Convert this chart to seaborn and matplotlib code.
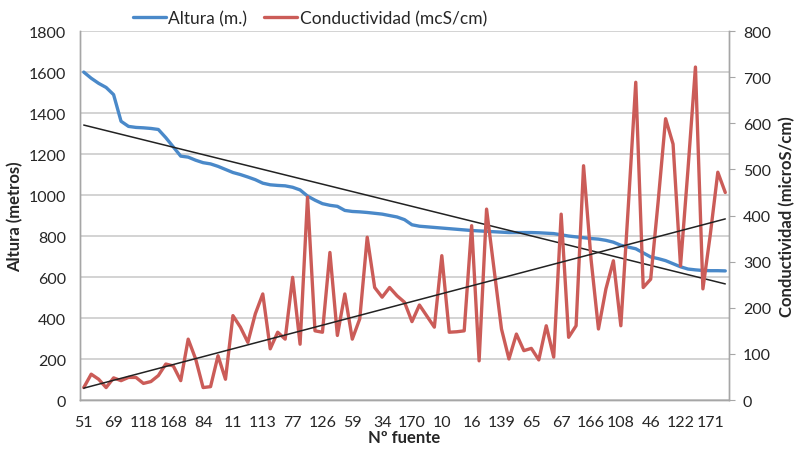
import numpy as np
import pandas as pd
import matplotlib.pyplot as plt
import seaborn as sns

sns.set_style("white")
plt.rcParams['font.family'] = ['Lato', 'DejaVu Sans']

# fuente labels shown on the axis (every 4th category)
tick_labels = ['51', '69', '118', '168', '84', '11', '113', '77', '126', '59', '34',
               '170', '10', '16', '139', '65', '67', '166', '108', '46', '122', '171']

altura = [1600, 1570, 1545, 1525, 1490, 1360, 1335, 1330, 1328, 1325,
          1320, 1280, 1235, 1190, 1185, 1170, 1158, 1152, 1140, 1125,
          1110, 1100, 1088, 1075, 1058, 1050, 1047, 1045, 1038, 1025,
          995, 975, 958, 950, 945, 925, 920, 918, 915, 911,
          907, 900, 893, 880, 855, 848, 845, 842, 839, 836,
          833, 830, 827, 825, 823, 821, 819, 817, 817, 817,
          817, 816, 814, 812, 806, 800, 796, 792, 788, 785,
          779, 770, 755, 746, 738, 718, 698, 690, 680, 665,
          650, 639, 635, 632, 631, 631, 630]

conductividad = [27, 56, 45, 27, 48, 42, 49, 49, 36, 40,
                 53, 78, 74, 42, 132, 89, 27, 29, 96, 45,
                 183, 158, 125, 187, 230, 111, 147, 132, 266, 121,
                 440, 150, 147, 320, 140, 230, 132, 176, 353, 244,
                 223, 244, 226, 212, 170, 206, 182, 158, 313, 147,
                 148, 150, 378, 85, 414, 284, 154, 89, 143, 107,
                 112, 87, 161, 93, 403, 136, 161, 508, 306, 154,
                 241, 302, 161, 420, 689, 244, 262, 430, 610, 555,
                 291, 500, 722, 241, 360, 494, 450]

df = pd.DataFrame({'idx': np.arange(len(altura)),
                   'altura': altura,
                   'conductividad': conductividad})

blue = '#4a89c9'
red = '#cb5c58'
grey = '#a6a6a6'
txt = '#262626'

fig = plt.figure(figsize=(8.05, 4.52), dpi=100)
ax = fig.add_axes([0.0994, 0.1128, 0.8062, 0.8162])
ax2 = ax.twinx()

# series
sns.lineplot(data=df, x='idx', y='altura', ax=ax, color=blue, linewidth=2.4,
             label='Altura (m.)', legend=False)
sns.lineplot(data=df, x='idx', y='conductividad', ax=ax2, color=red, linewidth=2.4,
             label='Conductividad (mcS/cm)', legend=False)

# linear trend lines
sns.regplot(data=df, x='idx', y='altura', ax=ax, scatter=False, ci=None,
            color='#222222', line_kws={'linewidth': 1.1})
sns.regplot(data=df, x='idx', y='conductividad', ax=ax2, scatter=False, ci=None,
            color='#222222', line_kws={'linewidth': 1.1})

n = len(altura)
for a in (ax, ax2):
    a.set_xlim(-0.5, n - 0.5)

ax.set_ylim(0, 1800)
ax.set_yticks(range(0, 1801, 200))
ax2.set_ylim(0, 800)
ax2.set_yticks(range(0, 801, 100))

ax.yaxis.grid(True, color='#c8c8c8', linewidth=1.1)
ax.set_axisbelow(True)

ax.set_xticks(np.arange(0, n, 4))
ax.set_xticklabels(tick_labels)
ax.set_xticks(np.arange(n + 1) - 0.5, minor=True)
ax.tick_params(axis='x', which='major', length=0, pad=11, labelsize=11.5, colors=txt)
ax.tick_params(axis='x', which='minor', length=4, color=grey, width=0.8)
ax.tick_params(axis='y', length=0, labelsize=11.5, colors=txt, pad=10)
ax2.tick_params(axis='y', length=4, labelsize=11.5, colors=txt, pad=6)
ax2.tick_params(axis='y', color=grey)

for a in (ax, ax2):
    a.spines['top'].set_visible(False)
    for s in ('left', 'right', 'bottom'):
        a.spines[s].set_color(grey)
        a.spines[s].set_linewidth(1.0)

ax.set_xlabel('Nº fuente', fontsize=12, fontweight='bold', labelpad=0, color=txt)
ax.set_ylabel('Altura (metros)', fontsize=12, fontweight='bold', labelpad=4, color=txt)
ax2.set_ylabel('Conductividad (microS/cm)', fontsize=12, fontweight='bold',
               labelpad=6, color=txt, rotation=90)

h1, l1 = ax.get_legend_handles_labels()
h2, l2 = ax2.get_legend_handles_labels()
fig.legend(h1 + h2, l1 + l2, loc='upper center', bbox_to_anchor=(0.385, 1.01), ncol=2,
           frameon=False, fontsize=12.5, handlelength=1.9, handletextpad=0.15,
           columnspacing=1.0)

plt.savefig('out.png', dpi=100)
